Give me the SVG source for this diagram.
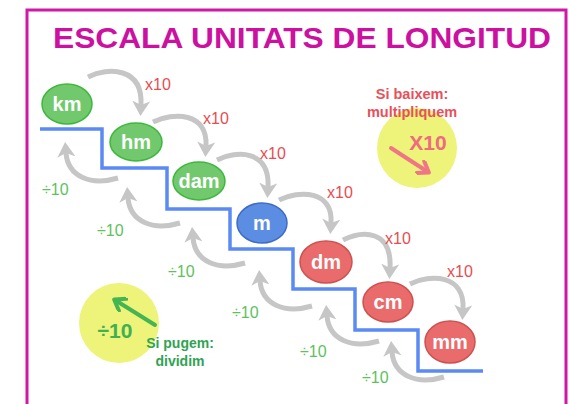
<svg xmlns="http://www.w3.org/2000/svg" width="571" height="404" viewBox="0 0 571 404">
<defs>
<style>
.arc{fill:none;stroke:#c6c6c6;stroke-width:5;marker-end:url(#ga)}
.nt{font-family:"Liberation Sans",Arial,sans-serif;font-weight:bold;font-size:20px;fill:#ffffff;text-anchor:middle}
.g{fill:#72c96d;stroke:#3cb83c;stroke-width:1.5}
.b{fill:#5b8de2;stroke:#3f6cc6;stroke-width:1.5}
.r{fill:#ea6b6b;stroke:#cc5252;stroke-width:1.5}
.mul{font-family:"Liberation Sans",Arial,sans-serif;font-size:16px;fill:#e84c52}
.div{font-family:"Liberation Sans",Arial,sans-serif;font-size:16px;fill:#5cc25c}
.lg{font-family:"Liberation Sans",Arial,sans-serif;font-weight:bold;text-anchor:middle}
</style>
<marker id="ga" markerUnits="userSpaceOnUse" markerWidth="18" markerHeight="18" refX="4" refY="9" orient="auto" viewBox="0 0 18 18">
<path d="M0,0 L15,9 L0,18 L4,9 Z" fill="#c6c6c6"/>
</marker>
<marker id="pa" markerUnits="userSpaceOnUse" markerWidth="16" markerHeight="16" refX="11" refY="8" orient="auto" viewBox="0 0 16 16">
<path d="M2,1 L12,8 L2,15" fill="none" stroke="#f07585" stroke-width="4" stroke-linecap="round" stroke-linejoin="round"/>
</marker>
<marker id="ka" markerUnits="userSpaceOnUse" markerWidth="16" markerHeight="16" refX="11" refY="8" orient="auto" viewBox="0 0 16 16">
<path d="M2,1 L12,8 L2,15" fill="none" stroke="#45b552" stroke-width="4" stroke-linecap="round" stroke-linejoin="round"/>
</marker>
</defs>
<rect width="571" height="404" fill="#ffffff"/>
<rect x="27" y="10" width="539" height="420" fill="none" stroke="#cf18a6" stroke-width="3"/>
<text x="53" y="48" textLength="498" lengthAdjust="spacingAndGlyphs" font-family="'Liberation Sans',Arial,sans-serif" font-weight="bold" font-size="30" fill="#cc10a0">ESCALA UNITATS DE LONGITUD</text>

<g id="legend-down">
<circle cx="417" cy="148" r="40" fill="#eef37a"/>
<text class="lg" x="412" y="99" font-size="14.5" fill="#e8505a">Si baixem:</text>
<text class="lg" x="412" y="117" font-size="14.5" fill="#e8505a">multipliquem</text>
<text class="lg" x="428" y="150" font-size="21" fill="#f06a80">X10</text>
<line x1="391" y1="148" x2="428" y2="172" stroke="#f07585" stroke-width="4" stroke-linecap="round" marker-end="url(#pa)"/>
</g>
<g id="legend-up">
<circle cx="119" cy="323" r="40" fill="#eef37a"/>
<text class="lg" x="115" y="338" font-size="21" fill="#40b050">÷10</text>
<line x1="155" y1="325" x2="115" y2="300" stroke="#45b552" stroke-width="4" stroke-linecap="round" marker-end="url(#ka)"/>
<text class="lg" x="180" y="348" font-size="14" fill="#2fa352">Si pugem:</text>
<text class="lg" x="180" y="366" font-size="14" fill="#2fa352">dividim</text>
</g>

<g id="connectors">
<polyline points="40,129 102,129 102,168 167,168 167,209 230,209 230,249 293,249 293,289 355,289 355,330 418,330 418,371 483,371" fill="none" stroke="#5b8af5" stroke-width="3.5"/>
<path class="arc" d="M88,77 C108,67 143,67 141,105"/>
<path class="arc" d="M153,122 C173,112 208,112 206,146"/>
<path class="arc" d="M217,160 C237,150 270,150 268,187"/>
<path class="arc" d="M279,200 C299,190 333,190 331,223"/>
<path class="arc" d="M343,240 C363,230 392,230 390,268"/>
<path class="arc" d="M410,284 C430,274 465,274 463,309"/>
<path class="arc" d="M118,178 C91,186 68,177 66,153"/>
<path class="arc" d="M180,223 C153,231 130,222 128,198"/>
<path class="arc" d="M245,263 C218,271 195,262 193,238"/>
<path class="arc" d="M312,306 C285,314 262,305 260,281"/>
<path class="arc" d="M379,341 C352,349 329,340 327,316"/>
<path class="arc" d="M444,377 C417,385 394,376 392,352"/>
<text class="mul" x="145" y="90">x10</text>
<text class="mul" x="203" y="124">x10</text>
<text class="mul" x="260" y="159">x10</text>
<text class="mul" x="327" y="198">x10</text>
<text class="mul" x="385" y="244">x10</text>
<text class="mul" x="447" y="277">x10</text>
<text class="div" x="42" y="195">÷10</text>
<text class="div" x="97" y="236">÷10</text>
<text class="div" x="168" y="277">÷10</text>
<text class="div" x="232" y="318">÷10</text>
<text class="div" x="300" y="357">÷10</text>
<text class="div" x="362" y="383">÷10</text>
</g>

<g id="node-km"><ellipse class="g" cx="67" cy="104" rx="25" ry="20"/><text class="nt" x="67" y="111">km</text></g>
<g id="node-hm"><ellipse class="g" cx="136" cy="142" rx="26" ry="19"/><text class="nt" x="136" y="149">hm</text></g>
<g id="node-dam"><ellipse class="g" cx="199" cy="181" rx="26" ry="19"/><text class="nt" x="199" y="188">dam</text></g>
<g id="node-m"><ellipse class="b" cx="262" cy="223" rx="25" ry="20"/><text class="nt" x="262" y="230">m</text></g>
<g id="node-dm"><ellipse class="r" cx="326" cy="262" rx="26" ry="21"/><text class="nt" x="326" y="269">dm</text></g>
<g id="node-cm"><ellipse class="r" cx="388" cy="302" rx="25" ry="20"/><text class="nt" x="388" y="309">cm</text></g>
<g id="node-mm"><ellipse class="r" cx="450" cy="342" rx="25" ry="21"/><text class="nt" x="450" y="349">mm</text></g>
</svg>
